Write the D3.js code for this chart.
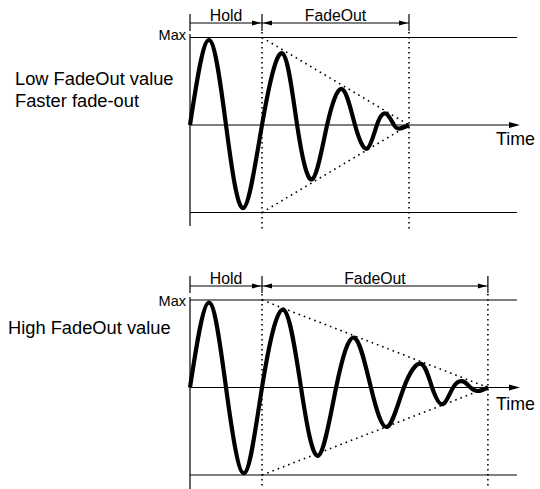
<!DOCTYPE html>
<html>
<head>
<meta charset="utf-8">
<script src="https://cdn.jsdelivr.net/npm/d3@7"></script>
<style>
body { margin: 0; background: #fff; }
text { font-family: "Liberation Sans", Arial, Helvetica, sans-serif; fill: #000; }
</style>
</head>
<body>
<svg id="chart" width="540" height="489"></svg>
<script>
// waveform key points (time units, normalised level -1..1)
var lowTime  = [0, 6.3, 12, 17.7, 24, 30.7, 35.7, 40.7, 45.7, 50.7, 55, 59, 62.3, 65.3, 68, 70, 73];
var lowValue = [0, 0.97, 0, -0.95, 0, 0.82, 0, -0.62, 0, 0.41, 0, -0.27, 0, 0.13, 0, -0.04, 0];

var highTime  = [0, 6.3, 12, 18, 24, 31, 37, 42.7, 48.7, 54.7, 60.3, 65.7, 71.3, 77, 80.7, 84.3, 87.7, 91, 93.5, 96, 99.3];
var highValue = [0, 0.97, 0, -0.98, 0, 0.89, 0, -0.78, 0, 0.57, 0, -0.45, 0, 0.27, 0, -0.19, 0, 0.07, 0, -0.04, 0];

var holdEnd = 24;
var fadeEnds = [73, 99.3];
var segmentLabels = ["Hold", "FadeOut"];
var lowLabels = ["Low FadeOut value", "Faster fade-out"];
var highLabels = ["High FadeOut value"];
var maxLabel = "Max";
var axisLabel = "Time";

var svg = d3.select("#chart");

var x = d3.scaleLinear().domain([0, 110]).range([190, 520]);

var panels = [
    {time: lowTime, value: lowValue, fadeEnd: fadeEnds[0], labels: lowLabels, labelX: 15, labelY: [85, 107],
     top: 37.5, bottom: 212.5, bracketY: 23, tickTop: 14, tickBottom: 31, axisTop: 34, axisBottom: 226, dotBottom: 230,
     maxY: 40, timeY: 145},
    {time: highTime, value: highValue, fadeEnd: fadeEnds[1], labels: highLabels, labelX: 8, labelY: [334],
     top: 300, bottom: 475, bracketY: 286, tickTop: 276, tickBottom: 293, axisTop: 297, axisBottom: 489, dotBottom: 489,
     maxY: 306, timeY: 410}
];

function arrowHead(g, px, py, dir, len, half){
    g.append("path")
        .attr("d", "M" + px + "," + py + "L" + (px - dir*len) + "," + (py - half) + "L" + (px - dir*len) + "," + (py + half) + "Z")
        .attr("fill", "#000");
}

panels.forEach(function(p){
    var g = svg.append("g");
    var y = d3.scaleLinear().domain([-1, 1]).range([p.bottom, p.top]);

    // left description
    p.labels.forEach(function(t, i){
        g.append("text").attr("x", p.labelX).attr("y", p.labelY[i])
            .style("font-size", "18.3px").text(t);
    });

    // y axis
    g.append("line").attr("x1", x(0)).attr("x2", x(0))
        .attr("y1", p.axisTop).attr("y2", p.axisBottom)
        .attr("stroke", "#000").attr("stroke-width", 1.2);

    // max / min lines
    [1, -1].forEach(function(v){
        g.append("line").attr("x1", x(0)).attr("x2", x(109))
            .attr("y1", y(v)).attr("y2", y(v))
            .attr("stroke", "#000").attr("stroke-width", 1.2);
    });
    g.append("text").attr("x", x(0) - 4).attr("y", p.maxY)
        .attr("text-anchor", "end").style("font-size", "14.5px").text(maxLabel);

    // time axis
    g.append("line").attr("x1", x(0)).attr("x2", x(107))
        .attr("y1", y(0)).attr("y2", y(0))
        .attr("stroke", "#000").attr("stroke-width", 1.2);
    arrowHead(g, x(110), y(0), 1, 11, 3);
    g.append("text").attr("x", x(0) + 306).attr("y", p.timeY)
        .style("font-size", "17.8px").text(axisLabel);

    // bracket ticks
    [0, holdEnd, p.fadeEnd].forEach(function(t){
        g.append("line").attr("x1", x(t)).attr("x2", x(t))
            .attr("y1", p.tickTop).attr("y2", p.tickBottom)
            .attr("stroke", "#000").attr("stroke-width", 1.2);
    });
    g.append("line").attr("x1", x(0)).attr("x2", x(p.fadeEnd))
        .attr("y1", p.bracketY).attr("y2", p.bracketY)
        .attr("stroke", "#000").attr("stroke-width", 1);
    arrowHead(g, x(holdEnd) - 1, p.bracketY, 1, 9, 2.5);
    arrowHead(g, x(holdEnd) + 1, p.bracketY, -1, 9, 2.5);
    arrowHead(g, x(p.fadeEnd) - 1, p.bracketY, 1, 9, 2.5);

    g.append("text").attr("x", (x(0) + x(holdEnd)) / 2).attr("y", p.bracketY - 2.5)
        .attr("text-anchor", "middle").style("font-size", "15.8px").text(segmentLabels[0]);
    g.append("text").attr("x", (x(holdEnd) + x(p.fadeEnd)) / 2).attr("y", p.bracketY - 2.5)
        .attr("text-anchor", "middle").style("font-size", "15.8px").text(segmentLabels[1]);

    // dotted guides
    [holdEnd, p.fadeEnd].forEach(function(t){
        g.append("line").attr("x1", x(t)).attr("x2", x(t))
            .attr("y1", p.tickBottom + 1).attr("y2", p.dotBottom)
            .attr("stroke", "#000").attr("stroke-width", 1.6)
            .attr("stroke-dasharray", "1.6 3.4");
    });
    [1, -1].forEach(function(v){
        g.append("line").attr("x1", x(holdEnd)).attr("x2", x(p.fadeEnd))
            .attr("y1", y(v)).attr("y2", y(0))
            .attr("stroke", "#000").attr("stroke-width", 1.6)
            .attr("stroke-dasharray", "1.6 4");
    });

    // waveform
    var pts = p.time.map(function(t, i){ return [t, p.value[i]]; });
    var line = d3.line()
        .x(function(d){ return x(d[0]); })
        .y(function(d){ return y(d[1]); })
        .curve(d3.curveNatural);
    g.append("path").datum(pts)
        .attr("d", line)
        .attr("fill", "none")
        .attr("stroke", "#000")
        .attr("stroke-width", 4.2)
        .attr("stroke-linejoin", "round");
});
</script>
</body>
</html>
